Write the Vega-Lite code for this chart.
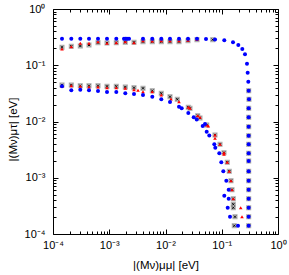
{
  "$schema": "https://vega.github.io/schema/vega-lite/v6.json",
  "width": 225,
  "height": 225,
  "autosize": "none",
  "padding": {"left": 53, "top": 9, "right": 11, "bottom": 41},
  "background": "white",
  "config": {
    "view": {"stroke": "black", "strokeWidth": 1},
    "axis": {
      "domain": false,
      "grid": false,
      "tickColor": "black",
      "tickWidth": 1,
      "labelFont": "Liberation Sans",
      "labelFontSize": 11,
      "labelColor": "black",
      "titleFont": "Liberation Sans",
      "titleFontSize": 11.5,
      "titleFontWeight": "normal",
      "titleColor": "black",
      "labelOverlap": false,
      "labelFlush": false
    }
  },
  "datasets": {
    "blue": [
      {"x": 0.0001445, "y": 0.2965}, {"x": 0.0002115, "y": 0.2965}, {"x": 0.0003057, "y": 0.2965}, {"x": 0.0004365, "y": 0.2965},
      {"x": 0.000631, "y": 0.2965}, {"x": 0.000912, "y": 0.2965}, {"x": 0.001334, "y": 0.2965}, {"x": 0.001829, "y": 0.2965},
      {"x": 0.001961, "y": 0.2965}, {"x": 0.002068, "y": 0.2965}, {"x": 0.002245, "y": 0.2965}, {"x": 0.00398, "y": 0.2965},
      {"x": 0.00582, "y": 0.2965}, {"x": 0.00842, "y": 0.2965}, {"x": 0.01202, "y": 0.2965}, {"x": 0.01738, "y": 0.2965},
      {"x": 0.02512, "y": 0.2965}, {"x": 0.0363, "y": 0.2965}, {"x": 0.0525, "y": 0.2929}, {"x": 0.0759, "y": 0.287},
      {"x": 0.111, "y": 0.2777}, {"x": 0.1585, "y": 0.2559}, {"x": 0.1968, "y": 0.229}, {"x": 0.2318, "y": 0.1945},
      {"x": 0.259, "y": 0.1565}, {"x": 0.281, "y": 0.1066}, {"x": 0.289, "y": 0.0737}, {"x": 0.2965, "y": 0.051},
      {"x": 0.301, "y": 0.0353}, {"x": 0.305, "y": 0.0248},
      {"x": 0.301, "y": 0.01717}, {"x": 0.301, "y": 0.01188}, {"x": 0.301, "y": 0.00808}, {"x": 0.301, "y": 0.00559},
      {"x": 0.301, "y": 0.00393}, {"x": 0.301, "y": 0.00272}, {"x": 0.301, "y": 0.001985}, {"x": 0.301, "y": 0.001302},
      {"x": 0.301, "y": 0.000886}, {"x": 0.301, "y": 0.000613}, {"x": 0.301, "y": 0.000424}, {"x": 0.301, "y": 0.000293},
      {"x": 0.301, "y": 0.000203}, {"x": 0.301, "y": 0.0001405},
      {"x": 0.0001445, "y": 0.04224}, {"x": 0.0002115, "y": 0.03587}, {"x": 0.0003057, "y": 0.03676}, {"x": 0.0004365, "y": 0.03587},
      {"x": 0.000631, "y": 0.03485}, {"x": 0.000912, "y": 0.03345}, {"x": 0.001334, "y": 0.03345}, {"x": 0.001929, "y": 0.03172},
      {"x": 0.002754, "y": 0.03083}, {"x": 0.003981, "y": 0.02959}, {"x": 0.005824, "y": 0.0276}, {"x": 0.00842, "y": 0.02481},
      {"x": 0.01202, "y": 0.02222}, {"x": 0.01738, "y": 0.01833}, {"x": 0.01941, "y": 0.01717}, {"x": 0.02543, "y": 0.01416},
      {"x": 0.03172, "y": 0.01188}, {"x": 0.03587, "y": 0.01085}, {"x": 0.04585, "y": 0.008318}, {"x": 0.05039, "y": 0.009028},
      {"x": 0.054, "y": 0.006588}, {"x": 0.06008, "y": 0.005637}, {"x": 0.07375, "y": 0.003933}, {"x": 0.0768, "y": 0.00342},
      {"x": 0.09045, "y": 0.002721}, {"x": 0.09817, "y": 0.001883}, {"x": 0.1066, "y": 0.001302}, {"x": 0.1205, "y": 0.000886},
      {"x": 0.1329, "y": 0.000613}, {"x": 0.111, "y": 0.00048}, {"x": 0.1329, "y": 0.000424}, {"x": 0.1276, "y": 0.0002935},
      {"x": 0.1402, "y": 0.000203}, {"x": 0.1945, "y": 0.0001405}
    ],
    "red": [
      {"x": 0.0001445, "y": 0.1945}, {"x": 0.0002115, "y": 0.2137}, {"x": 0.0003057, "y": 0.2456}, {"x": 0.0004365, "y": 0.2456},
      {"x": 0.000631, "y": 0.2623}, {"x": 0.000912, "y": 0.2456}, {"x": 0.001334, "y": 0.2518}, {"x": 0.001929, "y": 0.2623},
      {"x": 0.002754, "y": 0.2518}, {"x": 0.003981, "y": 0.2733}, {"x": 0.005824, "y": 0.2699}, {"x": 0.00842, "y": 0.2733},
      {"x": 0.01202, "y": 0.2733}, {"x": 0.01738, "y": 0.2733}, {"x": 0.02512, "y": 0.2777}, {"x": 0.0363, "y": 0.2892},
      {"x": 0.0001445, "y": 0.04224}, {"x": 0.0002115, "y": 0.0433}, {"x": 0.0003057, "y": 0.04224}, {"x": 0.0004365, "y": 0.04105},
      {"x": 0.000631, "y": 0.04105}, {"x": 0.000912, "y": 0.0399}, {"x": 0.001334, "y": 0.0399}, {"x": 0.001929, "y": 0.03893},
      {"x": 0.002754, "y": 0.03676}, {"x": 0.003244, "y": 0.03587}, {"x": 0.003981, "y": 0.03387}, {"x": 0.005824, "y": 0.03387},
      {"x": 0.00842, "y": 0.02959}, {"x": 0.01253, "y": 0.02512}, {"x": 0.01738, "y": 0.02249}, {"x": 0.02543, "y": 0.01788},
      {"x": 0.02726, "y": 0.01717}, {"x": 0.03736, "y": 0.01268}, {"x": 0.04105, "y": 0.01188}, {"x": 0.054, "y": 0.008666},
      {"x": 0.05767, "y": 0.008318}, {"x": 0.07586, "y": 0.005754}, {"x": 0.07586, "y": 0.005027}, {"x": 0.09309, "y": 0.003933},
      {"x": 0.1096, "y": 0.002788}, {"x": 0.1096, "y": 0.002611}, {"x": 0.1255, "y": 0.001883}, {"x": 0.1362, "y": 0.001302},
      {"x": 0.146, "y": 0.000886}, {"x": 0.1521, "y": 0.000613}, {"x": 0.1604, "y": 0.000424}, {"x": 0.2173, "y": 0.0002935},
      {"x": 0.2291, "y": 0.000203}
    ],
    "gray": [
      {"x": 0.0001445, "y": 0.2085}, {"x": 0.0002115, "y": 0.2173}, {"x": 0.0003057, "y": 0.2199}, {"x": 0.0004365, "y": 0.2291},
      {"x": 0.000631, "y": 0.2518}, {"x": 0.000912, "y": 0.2487}, {"x": 0.001334, "y": 0.2518}, {"x": 0.001929, "y": 0.2559},
      {"x": 0.002754, "y": 0.2559}, {"x": 0.003981, "y": 0.2623}, {"x": 0.005824, "y": 0.2623}, {"x": 0.00842, "y": 0.2623},
      {"x": 0.01202, "y": 0.2623}, {"x": 0.01738, "y": 0.2623}, {"x": 0.02512, "y": 0.2733}, {"x": 0.0363, "y": 0.2846},
      {"x": 0.06904, "y": 0.2846},
      {"x": 0.0001445, "y": 0.04456}, {"x": 0.0002115, "y": 0.04456}, {"x": 0.0003057, "y": 0.0433}, {"x": 0.0004365, "y": 0.0433},
      {"x": 0.000631, "y": 0.0433}, {"x": 0.000912, "y": 0.04224}, {"x": 0.001334, "y": 0.04224}, {"x": 0.001929, "y": 0.04105},
      {"x": 0.002754, "y": 0.0399}, {"x": 0.003981, "y": 0.03893}, {"x": 0.005824, "y": 0.03529}, {"x": 0.00842, "y": 0.03172},
      {"x": 0.01202, "y": 0.0276}, {"x": 0.01621, "y": 0.02481}, {"x": 0.02543, "y": 0.01788}, {"x": 0.02726, "y": 0.01717},
      {"x": 0.03736, "y": 0.01268}, {"x": 0.04105, "y": 0.01154}, {"x": 0.054, "y": 0.008666}, {"x": 0.07586, "y": 0.005754},
      {"x": 0.09309, "y": 0.003933}, {"x": 0.1096, "y": 0.002788}, {"x": 0.1255, "y": 0.001883}, {"x": 0.1362, "y": 0.001302},
      {"x": 0.146, "y": 0.000886}, {"x": 0.1521, "y": 0.000613}, {"x": 0.1604, "y": 0.000424}, {"x": 0.1604, "y": 0.0003373},
      {"x": 0.1604, "y": 0.0002935}, {"x": 0.172, "y": 0.000203}, {"x": 0.1671, "y": 0.0001405},
      {"x": 0.301, "y": 0.0353}, {"x": 0.305, "y": 0.0248}, {"x": 0.301, "y": 0.01717}, {"x": 0.301, "y": 0.01188},
      {"x": 0.301, "y": 0.00808}, {"x": 0.301, "y": 0.00559}, {"x": 0.301, "y": 0.00393}, {"x": 0.301, "y": 0.00272},
      {"x": 0.301, "y": 0.001985}, {"x": 0.301, "y": 0.001302}, {"x": 0.301, "y": 0.000886}, {"x": 0.301, "y": 0.000613},
      {"x": 0.301, "y": 0.000424}, {"x": 0.301, "y": 0.000293}, {"x": 0.301, "y": 0.000203}, {"x": 0.301, "y": 0.0001405}
    ]
  },
  "layer": [
    {
      "data": {"name": "gray"},
      "mark": {"type": "point", "shape": "square", "filled": true, "color": "#b0b0b0", "size": 26, "opacity": 1},
      "encoding": {
        "x": {
          "field": "x", "type": "quantitative",
          "scale": {"type": "log", "domain": [0.0001, 1], "nice": false},
          "axis": {
            "orient": "bottom",
            "title": "|(Mν)μμ|  [eV]",
            "titlePadding": 7,
            "values": [0.0001,0.0002,0.0003,0.0004,0.0005,0.0006,0.0007,0.0008,0.0009,0.001,0.002,0.003,0.004,0.005,0.006,0.007,0.008,0.009,0.01,0.02,0.03,0.04,0.05,0.06,0.07,0.08,0.09,0.1,0.2,0.3,0.4,0.5,0.6,0.7,0.8,0.9,1],
            "tickSize": {"condition": {"test": "indexof([0.0001,0.001,0.01,0.1,1], datum.value) >= 0", "value": -5}, "value": -3},
            "labelPadding": 10,
            "labelExpr": "datum.value == 0.0001 ? '10⁻⁴' : datum.value == 0.001 ? '10⁻³' : datum.value == 0.01 ? '10⁻²' : datum.value == 0.1 ? '10⁻¹' : datum.value == 1 ? '10⁰' : ''"
          }
        },
        "y": {
          "field": "y", "type": "quantitative",
          "scale": {"type": "log", "domain": [0.0001, 1], "nice": false},
          "axis": {
            "orient": "left",
            "title": "|(Mν)μτ|  [eV]",
            "titlePadding": 6,
            "titleY": 120,
            "values": [0.0001,0.0002,0.0003,0.0004,0.0005,0.0006,0.0007,0.0008,0.0009,0.001,0.002,0.003,0.004,0.005,0.006,0.007,0.008,0.009,0.01,0.02,0.03,0.04,0.05,0.06,0.07,0.08,0.09,0.1,0.2,0.3,0.4,0.5,0.6,0.7,0.8,0.9,1],
            "tickSize": {"condition": {"test": "indexof([0.0001,0.001,0.01,0.1,1], datum.value) >= 0", "value": -5}, "value": -3},
            "labelPadding": 13,
            "labelExpr": "datum.value == 0.0001 ? '10⁻⁴' : datum.value == 0.001 ? '10⁻³' : datum.value == 0.01 ? '10⁻²' : datum.value == 0.1 ? '10⁻¹' : datum.value == 1 ? '10⁰' : ''"
          }
        }
      }
    },
    {
      "data": {"name": "gray"},
      "mark": {"type": "point", "shape": "M-1,-1L1,1M1,-1L-1,1", "filled": false, "color": "#000000", "size": 5, "strokeWidth": 0.9, "opacity": 1},
      "encoding": {
        "x": {"field": "x", "type": "quantitative", "axis": null},
        "y": {"field": "y", "type": "quantitative", "axis": null}
      }
    },
    {
      "data": {"name": "red"},
      "mark": {"type": "point", "shape": "triangle-up", "filled": true, "color": "#ff0000", "size": 13, "opacity": 1},
      "encoding": {
        "x": {"field": "x", "type": "quantitative", "axis": null},
        "y": {"field": "y", "type": "quantitative", "axis": null}
      }
    },
    {
      "data": {"name": "blue"},
      "mark": {"type": "point", "shape": "circle", "filled": true, "color": "#0000ff", "size": 16, "opacity": 1},
      "encoding": {
        "x": {
          "field": "x", "type": "quantitative",
          "axis": {
            "orient": "top", "title": null, "labels": false,
            "values": [0.0001,0.0002,0.0003,0.0004,0.0005,0.0006,0.0007,0.0008,0.0009,0.001,0.002,0.003,0.004,0.005,0.006,0.007,0.008,0.009,0.01,0.02,0.03,0.04,0.05,0.06,0.07,0.08,0.09,0.1,0.2,0.3,0.4,0.5,0.6,0.7,0.8,0.9,1],
            "tickSize": {"condition": {"test": "indexof([0.0001,0.001,0.01,0.1,1], datum.value) >= 0", "value": -5}, "value": -3}
          }
        },
        "y": {
          "field": "y", "type": "quantitative",
          "axis": {
            "orient": "right", "title": null, "labels": false,
            "values": [0.0001,0.0002,0.0003,0.0004,0.0005,0.0006,0.0007,0.0008,0.0009,0.001,0.002,0.003,0.004,0.005,0.006,0.007,0.008,0.009,0.01,0.02,0.03,0.04,0.05,0.06,0.07,0.08,0.09,0.1,0.2,0.3,0.4,0.5,0.6,0.7,0.8,0.9,1],
            "tickSize": {"condition": {"test": "indexof([0.0001,0.001,0.01,0.1,1], datum.value) >= 0", "value": -5}, "value": -3}
          }
        }
      }
    }
  ],
  "resolve": {"axis": {"x": "independent", "y": "independent"}}
}
